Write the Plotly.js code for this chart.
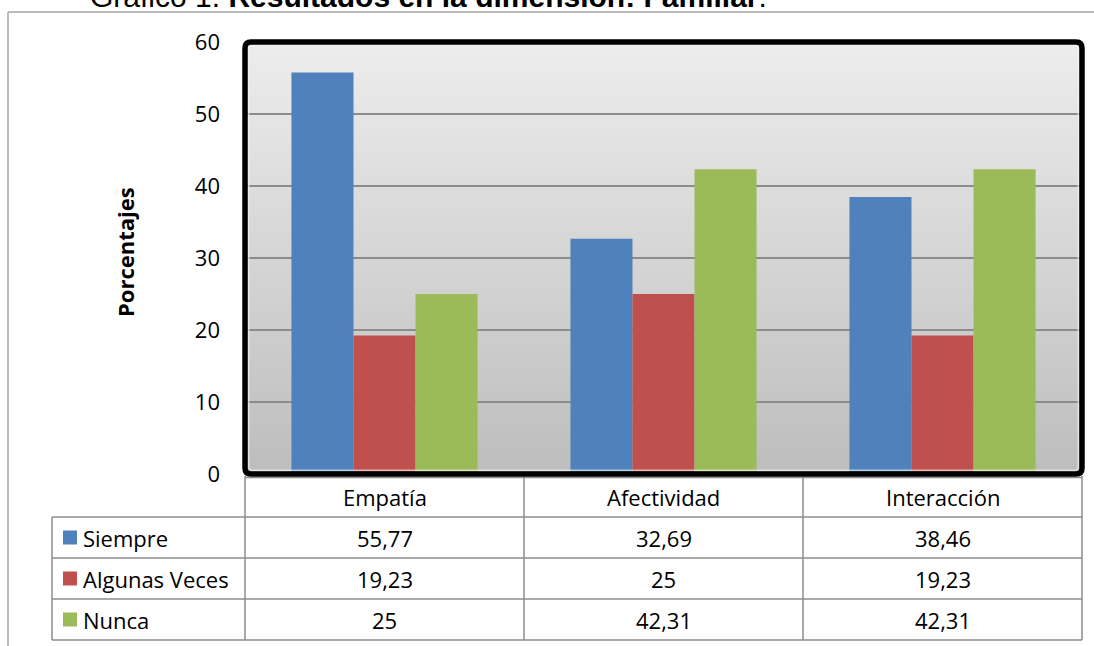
<!DOCTYPE html>
<html>
<head>
<meta charset="utf-8">
<script src="https://cdn.plot.ly/plotly-3.0.1.min.js"></script>
<style>html,body{margin:0;padding:0;background:#fff;}#chart{width:1094px;height:646px;}</style>
</head>
<body>
<div id="chart"></div>
<script>
// ---- data ----
const categories = ["Empatía", "Afectividad", "Interacción"];
const seriesNames = ["Siempre", "Algunas Veces", "Nunca"];
const siempre = [55.77, 32.69, 38.46];
const algunasVeces = [19.23, 25, 19.23];
const nunca = [25, 42.31, 42.31];
const yTicks = [0, 10, 20, 30, 40, 50, 60];
const titleRegular = "Gráfico 1. ";
const titleBold = "Resultados en la dimensión: Familiar";
const yTitle = "Porcentajes";

// ---- styling / layout ----
const colors = ["#4f81bd", "#c0504d", "#9bbb59"];
const seriesValues = [siempre, algunasVeces, nunca];
const W = 1094, H = 646;
const M = {l: 245, r: 12, t: 42, b: 172};
const PW = W - M.l - M.r, PH = H - M.t - M.b;
const px = X => (X - M.l) / PW;
const py = Y => (H - M.b - Y) / PH;
const FONT = "Open Sans, Noto Sans, sans-serif";
const fmt = v => String(v).replace('.', ',');

const traces = seriesNames.map((name, i) => ({
  type: 'bar', name: name, x: categories, y: seriesValues[i],
  marker: {color: colors[i], line: {width: 0}}, hoverinfo: 'skip'
}));

const shapes = [];
const annotations = [];
const gray = '#8c8c8c';
function hline(x0, x1, Y, color, w) {
  shapes.push({type: 'line', xref: 'paper', yref: 'paper', x0: px(x0), x1: px(x1), y0: py(Y), y1: py(Y), line: {color: color || gray, width: w || 1.5}, layer: 'above'});
}
function vline(X, y0, y1, color, w) {
  shapes.push({type: 'line', xref: 'paper', yref: 'paper', x0: px(X), x1: px(X), y0: py(y0), y1: py(y1), line: {color: color || gray, width: w || 1.5}, layer: 'above'});
}

// outer frame
hline(8, 1094, 12, '#a6a6a6', 1.5);
vline(8, 12, 646, '#a6a6a6', 1.5);

// table grid
const colX = [245, 524, 803, 1082];
const rowY = [517, 558, 599, 640];
hline(245, 1082, 477.5);
rowY.forEach(Y => hline(52, 1082, Y));
colX.forEach(X => vline(X, 476, 640));
vline(52, 517, 640);

// rounded black plot border
function roundedRect(x0p, y0p, x1p, y1p, r) {
  const x0 = px(x0p), x1 = px(x1p), yT = py(y0p), yB = py(y1p);
  const rx = r / PW, ry = r / PH;
  return `M ${x0 + rx},${yT} L ${x1 - rx},${yT} Q ${x1},${yT} ${x1},${yT - ry} L ${x1},${yB + ry} Q ${x1},${yB} ${x1 - rx},${yB} L ${x0 + rx},${yB} Q ${x0},${yB} ${x0},${yB + ry} L ${x0},${yT - ry} Q ${x0},${yT} ${x0 + rx},${yT} Z`;
}
shapes.push({type: 'path', xref: 'paper', yref: 'paper', path: roundedRect(245, 42, 1082, 474, 6), line: {color: '#000', width: 5.5}, layer: 'above'});
shapes.push({type: 'path', xref: 'paper', yref: 'paper', path: roundedRect(248.8, 45.8, 1078.2, 470.2, 3), line: {color: '#f2f2f2', width: 1}, layer: 'above'});

// table texts
const TFS = 22;
categories.forEach(c => annotations.push({xref: 'x', yref: 'paper', x: c, y: py(497), text: c, showarrow: false, font: {family: FONT, size: TFS, color: '#000'}, xanchor: 'center', yanchor: 'middle'}));
const rowCenters = [537.5, 578.5, 619.5];
seriesNames.forEach((name, i) => {
  const Yc = rowCenters[i];
  shapes.push({type: 'rect', xref: 'paper', yref: 'paper', x0: px(63), x1: px(77), y0: py(Yc - 7), y1: py(Yc + 7), fillcolor: colors[i], line: {width: 0}, layer: 'above'});
  annotations.push({xref: 'paper', yref: 'paper', x: px(81), y: py(Yc), text: name, showarrow: false, font: {family: FONT, size: TFS, color: '#000'}, xanchor: 'left', yanchor: 'middle'});
  seriesValues[i].forEach((v, j) => annotations.push({xref: 'x', yref: 'paper', x: categories[j], y: py(Yc), text: fmt(v), showarrow: false, font: {family: FONT, size: TFS, color: '#000'}, xanchor: 'center', yanchor: 'middle'}));
});

// y-axis title
annotations.push({xref: 'paper', yref: 'paper', x: px(125), y: py(252), text: '<b>' + yTitle + '</b>', textangle: -90, showarrow: false, font: {family: FONT, size: 22, color: '#000'}, xanchor: 'center', yanchor: 'middle'});

// chart caption (cut at the top edge)
annotations.push({xref: 'paper', yref: 'paper', x: px(88), y: py(15), text: titleRegular + '<b>' + titleBold + '</b>.', showarrow: false, font: {family: 'Liberation Sans, Arial, sans-serif', size: 30, color: '#000'}, xanchor: 'left', yanchor: 'bottom'});

const bgSvg = "<svg xmlns='http://www.w3.org/2000/svg' width='10' height='100' preserveAspectRatio='none'><defs><linearGradient id='g' x1='0' y1='0' x2='0' y2='1'><stop offset='0' stop-color='#ededed'/><stop offset='1' stop-color='#bdbdbd'/></linearGradient></defs><rect width='10' height='100' fill='url(#g)'/></svg>";

const layout = {
  width: W, height: H,
  margin: M,
  paper_bgcolor: '#ffffff',
  plot_bgcolor: 'rgba(0,0,0,0)',
  showlegend: false,
  barmode: 'group', bargap: 0.333, bargroupgap: 0,
  separators: ',.',
  xaxis: {type: 'category', range: [-0.5, 2.5], showticklabels: false, showgrid: false, zeroline: false, showline: false, ticks: '', fixedrange: true},
  yaxis: {range: [0, 60], tickvals: yTicks, ticktext: yTicks.map(String), showgrid: true, gridcolor: '#8c8c8c', gridwidth: 1.5, zeroline: false, showline: false, ticks: '', ticklabelstandoff: 24, tickfont: {family: FONT, size: 22, color: '#000'}, fixedrange: true},
  images: [{source: 'data:image/svg+xml;charset=utf-8,' + encodeURIComponent(bgSvg), xref: 'paper', yref: 'paper', x: 0, y: 1, sizex: 1, sizey: 1, sizing: 'stretch', xanchor: 'left', yanchor: 'top', layer: 'below'}],
  shapes: shapes,
  annotations: annotations
};

Plotly.newPlot('chart', traces, layout, {displayModeBar: false, staticPlot: true});
</script>
</body>
</html>
